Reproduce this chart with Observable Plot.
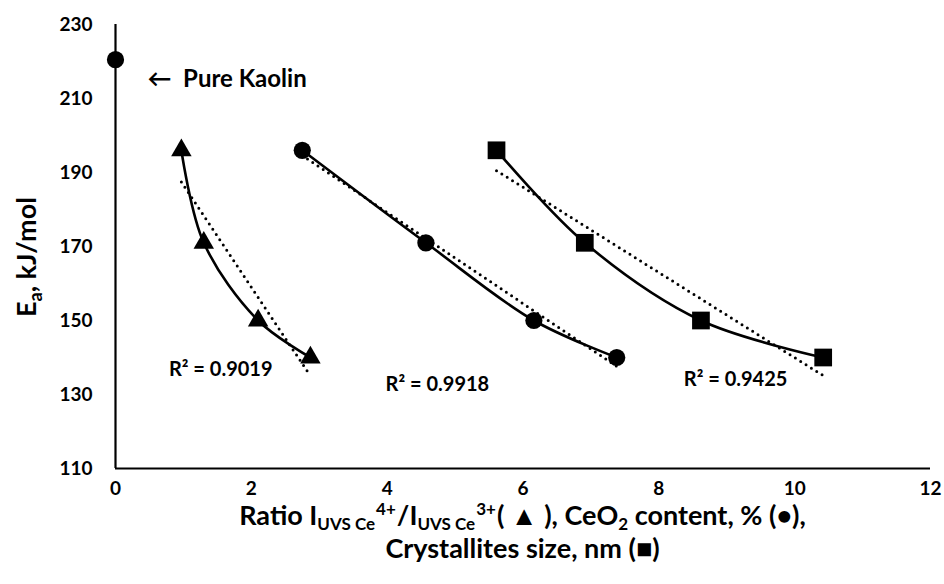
<!DOCTYPE html>
<html>
<head>
<meta charset="utf-8">
<script src="https://cdn.jsdelivr.net/npm/d3@7"></script>
<script src="https://cdn.jsdelivr.net/npm/@observablehq/plot@0.6"></script>
<style>
  html, body { margin: 0; padding: 0; background: #fff; }
  #chart { width: 944px; height: 584px; }
  svg { font-family: Lato, "Open Sans", sans-serif; }
</style>
</head>
<body>
<div id="chart"></div>
<script>
// Activation energy (kJ/mol) of the four CeO2/kaolin samples
const Ea = [196, 171, 150, 140];
// UV-Vis Ce4+/Ce3+ intensity ratio (triangles)
const ratioCe = [0.97, 1.30, 2.10, 2.87];
// CeO2 content, % (circles)
const ceo2Content = [2.75, 4.57, 6.16, 7.38];
// Crystallite size, nm (squares)
const crystalliteSize = [5.61, 6.91, 8.62, 10.42];
// Pure kaolin reference point
const kaolinX = [0];
const kaolinEa = [220.5];

const seriesNames = ["ratio", "content", "size"];
const seriesSymbols = ["triangle", "circle", "square"];
const seriesX = [ratioCe, ceo2Content, crystalliteSize];
const r2Text = ["R² = 0.9019", "R² = 0.9918", "R² = 0.9425"];

const xTicks = [0, 2, 4, 6, 8, 10, 12];
const yTicks = [110, 130, 150, 170, 190, 210, 230];

const rows = seriesNames.flatMap((s, i) =>
  seriesX[i].map((x, j) => ({series: s, symbol: seriesSymbols[i], x, Ea: Ea[j]}))
);
const kaolin = kaolinX.map((x, i) => ({x, Ea: kaolinEa[i]}));

// where the R² annotations sit, in data units
const r2Pos = [
  {x: 1.55, y: 136.8},
  {x: 4.74, y: 132.7},
  {x: 9.13, y: 134.0}
];
const r2Rows = r2Text.map((t, i) => ({text: t, ...r2Pos[i]}));

const symSize = {triangle: 7.6, circle: 8.6, square: 10};

const chart = Plot.plot({
  width: 944,
  height: 584,
  marginLeft: 115,
  marginRight: 14,
  marginTop: 24,
  marginBottom: 116,
  style: {fontFamily: "Lato, 'Open Sans', sans-serif", color: "#000", background: "#fff"},
  x: {domain: [0, 12], ticks: xTicks, label: null},
  y: {domain: [110, 230], ticks: yTicks, label: null},
  symbol: {domain: ["triangle", "circle", "square"], range: ["triangle", "circle", "square"]},
  marks: [
    Plot.axisX({ticks: xTicks, tickSize: 0, tickPadding: 13, fontSize: 19, fontWeight: "bold", label: null}),
    Plot.axisY({ticks: yTicks, tickSize: 0, tickPadding: 23, fontSize: 19, fontWeight: "bold", label: null}),
    Plot.ruleX([0], {y1: 110, y2: 230, stroke: "#000", strokeWidth: 2.2}),
    Plot.ruleY([110], {x1: 0, x2: 12, stroke: "#000", strokeWidth: 2.2}),
    // dotted linear trend lines
    Plot.linearRegressionY(rows, {
      x: "x", y: "Ea", z: "series", ci: 0,
      stroke: "#000", strokeWidth: 3, strokeDasharray: "0,6.3", strokeLinecap: "round"
    }),
    // smoothed connecting lines
    Plot.line(rows, {
      x: "x", y: "Ea", z: "series", curve: "catmull-rom",
      stroke: "#000", strokeWidth: 2.6
    }),
    ...seriesSymbols.map(sym =>
      Plot.dot(rows.filter(d => d.symbol === sym), {
        x: "x", y: "Ea", symbol: "symbol", r: symSize[sym], fill: "#000", stroke: "none"
      })
    ),
    Plot.dot(kaolin, {x: "x", y: "Ea", symbol: "circle", r: 8.6, fill: "#000"}),
    Plot.text(kaolin, {
      x: d => d.x + 0.47, y: d => d.Ea - 5.4, text: () => "\u2190  Pure Kaolin",
      textAnchor: "start", fontSize: 24, fontWeight: "bold", fill: "#000"
    }),
    Plot.text(r2Rows, {
      x: "x", y: "y", text: "text", fontSize: 20, fontWeight: "bold", fill: "#000"
    })
  ]
});

document.getElementById("chart").appendChild(chart);

// axis titles with sub- and superscripts
const svg = d3.select(chart);
const cx = 522.5;

const yTitle = svg.append("text")
  .attr("transform", "translate(36,257) rotate(-90)")
  .attr("text-anchor", "middle")
  .attr("font-size", 27).attr("font-weight", "bold").attr("fill", "#000");
yTitle.append("tspan").text("E");
yTitle.append("tspan").attr("font-size", 18).attr("dy", 6).text("a");
yTitle.append("tspan").attr("dy", -6).text(", kJ/mol");

const xTitle = svg.append("text")
  .attr("x", cx).attr("y", 525)
  .attr("text-anchor", "middle")
  .attr("font-size", 27).attr("font-weight", "bold").attr("fill", "#000");
xTitle.append("tspan").text("Ratio I");
xTitle.append("tspan").attr("font-size", 17).attr("dy", 5).text("UVS Ce");
xTitle.append("tspan").attr("font-size", 17).attr("dy", -15).attr("dx", 1).text("4+");
xTitle.append("tspan").attr("dy", 10).attr("dx", 1).text("/I");
xTitle.append("tspan").attr("font-size", 17).attr("dy", 5).text("UVS Ce");
xTitle.append("tspan").attr("font-size", 17).attr("dy", -15).attr("dx", 1).text("3+");
xTitle.append("tspan").attr("dy", 10).attr("dx", 1).text("( \u25B2 ), CeO");
xTitle.append("tspan").attr("font-size", 17).attr("dy", 5).text("2");
xTitle.append("tspan").attr("dy", -5).text(" content, % (\u2022),");

svg.append("text")
  .attr("x", cx).attr("y", 558)
  .attr("text-anchor", "middle")
  .attr("font-size", 27).attr("font-weight", "bold").attr("fill", "#000")
  .text("Crystallites size, nm (\u25A0)");
</script>
</body>
</html>
